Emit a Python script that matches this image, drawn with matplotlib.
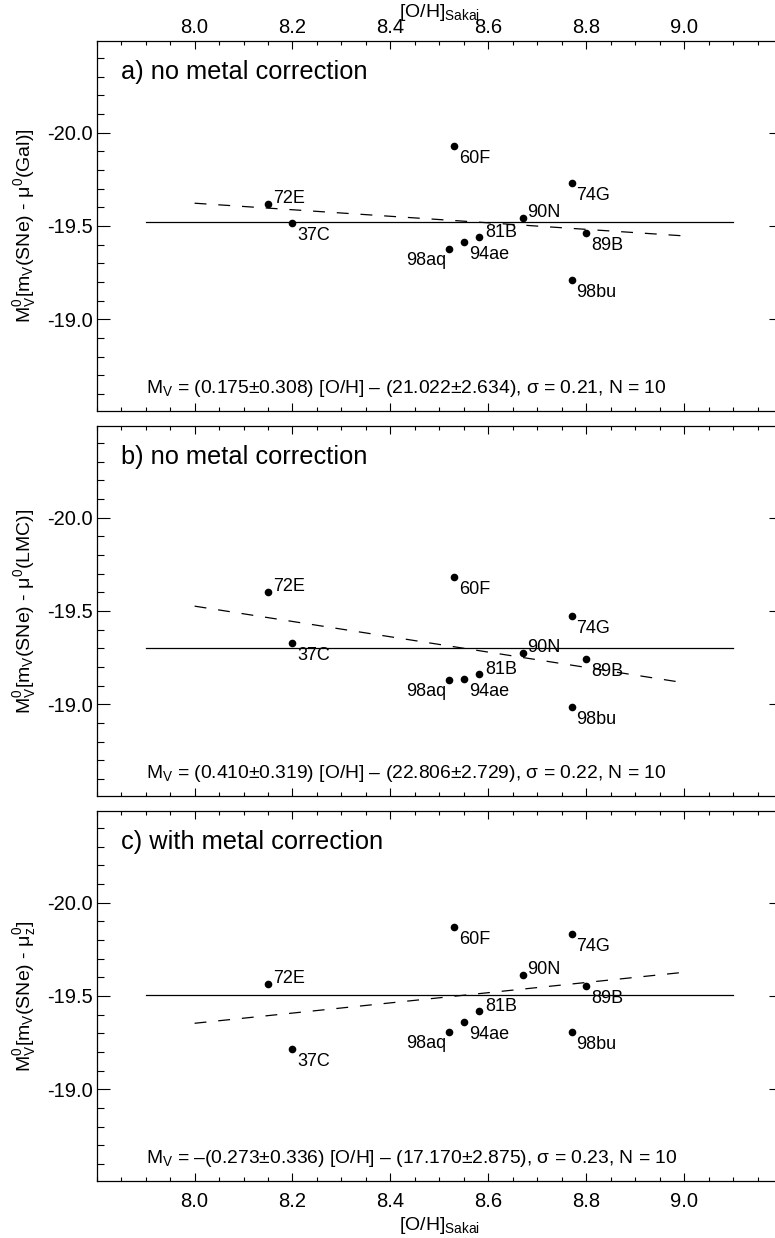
import numpy as np
import matplotlib
matplotlib.use('Agg')
import matplotlib.pyplot as plt
from matplotlib.ticker import MultipleLocator, FixedLocator, FormatStrFormatter

plt.rcParams['font.family'] = ['Liberation Sans', 'DejaVu Sans']
plt.rcParams['mathtext.fontset'] = 'custom'
plt.rcParams['mathtext.rm'] = 'Liberation Sans'
plt.rcParams['mathtext.it'] = 'Liberation Sans'
plt.rcParams['mathtext.default'] = 'regular'
plt.rcParams['axes.unicode_minus'] = False

# SNe Ia in Cepheid-calibrated galaxies
names = ['37C', '60F', '72E', '74G', '81B', '89B', '90N', '94ae', '98aq', '98bu']
oh_sakai = [8.20, 8.53, 8.15, 8.77, 8.58, 8.80, 8.67, 8.55, 8.52, 8.77]

# M_V^0 for the three calibrations
mv_gal = [-19.518, -19.927, -19.620, -19.730, -19.443, -19.461, -19.544, -19.413, -19.378, -19.213]
mv_lmc = [-19.331, -19.684, -19.604, -19.475, -19.165, -19.243, -19.277, -19.138, -19.131, -18.987]
mv_z = [-19.219, -19.870, -19.565, -19.832, -19.422, -19.552, -19.614, -19.363, -19.309, -19.306]

# mean level (solid) and fit endpoints (dashed)
mean_x = [7.9, 9.1]
mean_mv = [-19.523, -19.303, -19.503]
fit_x = [8.0, 9.0]
fit_mv = [[-19.622, -19.447], [-19.526, -19.116], [-19.354, -19.627]]

xticks = [8.0, 8.2, 8.4, 8.6, 8.8, 9.0]

titles = ['a) no metal correction', 'b) no metal correction', 'c) with metal correction']
ylabels = [r'M$^0_V$[m$_V$(SNe) - μ$^0$(Gal)]',
           r'M$^0_V$[m$_V$(SNe) - μ$^0$(LMC)]',
           r'M$^0_V$[m$_V$(SNe) - μ$^0_z$]']
equations = [r'M$_V$ = (0.175±0.308) [O/H] – (21.022±2.634), σ = 0.21, N = 10',
             r'M$_V$ = (0.410±0.319) [O/H] – (22.806±2.729), σ = 0.22, N = 10',
             r'M$_V$ = –(0.273±0.336) [O/H] – (17.170±2.875), σ = 0.23, N = 10']

# label placement (pixels offset, ha, va)
label_pos = {
    '72E': (5, 1, 'left', 'baseline'),
    '90N': (5, 1, 'left', 'baseline'),
    '81B': (7, 4, 'left', 'center'),
    '98aq': (-3, -3, 'right', 'top'),
}
default_pos = (5, -4, 'left', 'top')

W, H = 775, 1238
fig = plt.figure(figsize=(W / 100, H / 100), dpi=100)

left = 96.7 / W
width = 685.3 / W
height = 370 / H
tops = [41, 426, 811]

for i, (mv, title, ylab, eq) in enumerate(zip([mv_gal, mv_lmc, mv_z], titles, ylabels, equations)):
    ax = fig.add_axes([left, 1 - (tops[i] + 370) / H, width, height])
    ax.set_xlim(7.8, 9.2)
    ax.set_ylim(-18.51, -20.49)

    ax.plot(mean_x, [mean_mv[i]] * 2, color='black', lw=0.9)
    ax.plot(fit_x, fit_mv[i], color='black', lw=0.9, dashes=(9.5, 9.5))
    ax.plot(oh_sakai, mv, 'o', color='black', ms=5.5, mec='none')

    for n, x, y in zip(names, oh_sakai, mv):
        dx, dy, ha, va = label_pos.get(n, default_pos)
        ax.annotate(n, (x, y), xytext=(dx, dy), textcoords='offset pixels',
                    ha=ha, va=va, fontsize=13)

    ax.text(0.035, 0.897, title, transform=ax.transAxes, fontsize=18.3, va='baseline')
    ax.text(0.0715, 0.049, eq, transform=ax.transAxes, fontsize=13.9, va='baseline')

    ax.xaxis.set_major_locator(FixedLocator(xticks))
    ax.xaxis.set_minor_locator(MultipleLocator(0.05))
    ax.xaxis.set_major_formatter(FormatStrFormatter('%.1f'))
    ax.yaxis.set_major_locator(MultipleLocator(0.5))
    ax.yaxis.set_minor_locator(MultipleLocator(0.1))
    ax.yaxis.set_major_formatter(FormatStrFormatter('%.1f'))

    ax.tick_params(axis='both', which='both', direction='in', top=True, right=True,
                   width=0.8, labelsize=14.5)
    ax.tick_params(axis='x', which='major', length=6)
    ax.tick_params(axis='x', which='minor', length=3)
    ax.tick_params(axis='y', which='major', length=9.5, pad=3)
    ax.tick_params(axis='y', which='minor', length=5)
    for s in ax.spines.values():
        s.set_linewidth(0.9)

    if i == 0:
        ax.tick_params(axis='x', labeltop=True, labelbottom=False, pad=3)
    elif i == 2:
        ax.tick_params(axis='x', labeltop=False, labelbottom=True, pad=8)
    else:
        ax.tick_params(axis='x', labeltop=False, labelbottom=False)

    ax.set_ylabel(ylab, fontsize=14)
    ax.yaxis.set_label_coords(-0.086, 0.5)

fig.text(439 / W, 1 - 17 / H, r'[O/H]$_{Sakai}$', ha='center', va='baseline', fontsize=14)
fig.text(439 / W, 1 - 1230 / H, r'[O/H]$_{Sakai}$', ha='center', va='baseline', fontsize=14)

fig.savefig('out.png', dpi=100)
